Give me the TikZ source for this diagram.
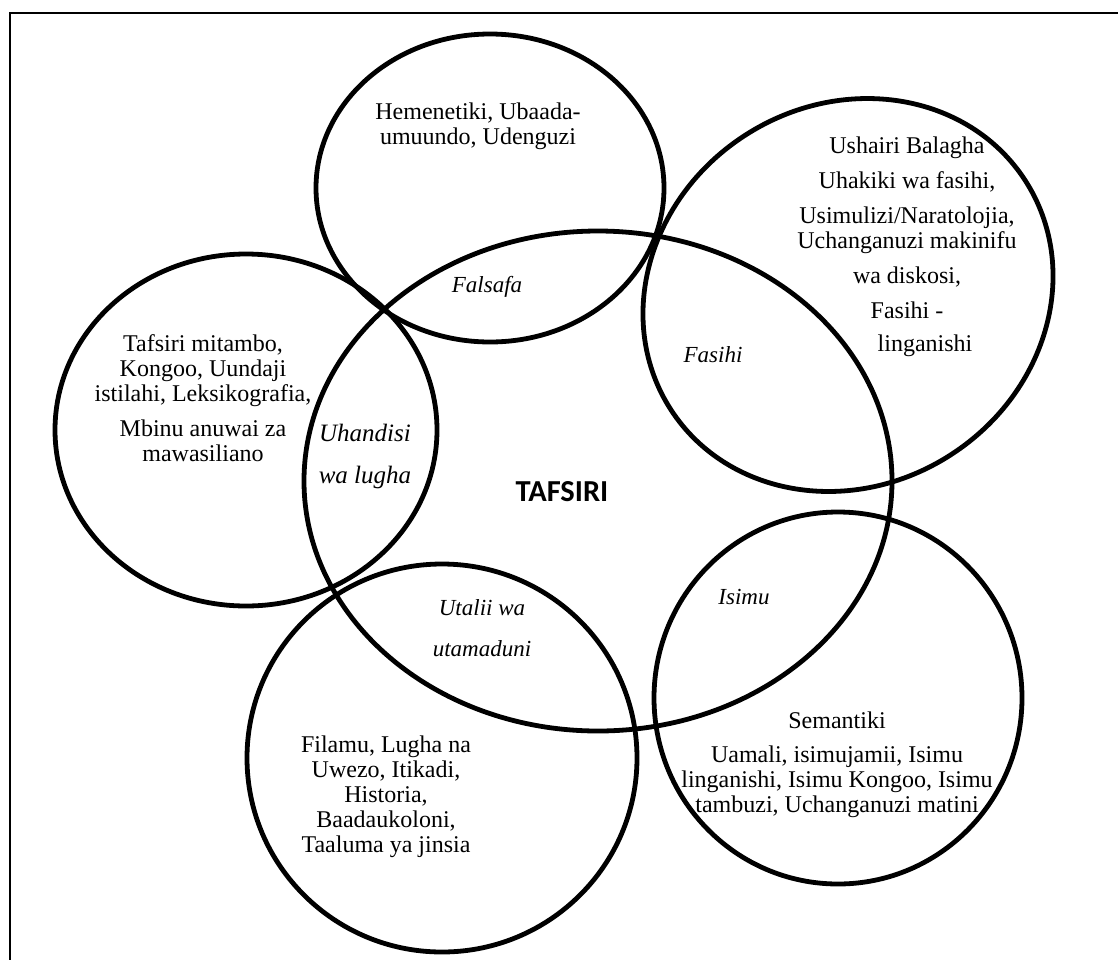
\documentclass[tikz,border=0pt]{standalone}
\usepackage{fontspec}
\setmainfont{Liberation Serif}
\newfontfamily\headfont{Carlito}

\begin{document}
\begin{tikzpicture}[x=1pt, y=-1pt,
                ring/.style={draw=black, line width=4.8pt},
                txt/.style={align=center, inner sep=0pt,
                            font=\fontsize{24}{25}\selectfont},
                lap/.style={align=center, inner sep=0pt,
                            font=\fontsize{23}{25}\selectfont\itshape},
                core/.style={inner sep=0pt,
                             font=\fontsize{30.5}{32}\selectfont\headfont\bfseries}
            ]
                \useasboundingbox (0,0) rectangle (1118,959);
                \clip (0,0) rectangle (1118,959);
                \draw[line width=1.8pt] (10,13) rectangle (1180,1010);

                \draw[ring] (490,188) ellipse [x radius=174, y radius=154];
                \draw[ring] (598,481) ellipse [x radius=294, y radius=250];
                \draw[ring] (246,430) ellipse [x radius=191, y radius=176];
                \draw[ring, rotate around={33:(848,295)}] (848,295) ellipse [x radius=211, y radius=190];
                \draw[ring] (442,758) ellipse [x radius=195, y radius=194];
                \draw[ring] (838,698) ellipse [x radius=184, y radius=186];

                \node[core] (tafsiri) at (562,492) {TAFSIRI};

                \node[lap] (falsafa) at (487,287) {Falsafa};
                \node[lap] (fasihi) at (713,355) {Fasihi};
                \node[lap, font=\fontsize{25}{25}\selectfont\itshape] (uhandisi) at (365,456) {Uhandisi\\[17pt] wa lugha};
                \node[lap] (utalii) at (482,628) {Utalii wa\\[16pt] utamaduni};
                \node[lap] (isimu) at (744,597) {Isimu};

                \node[txt] (hemenetiki) at (478,126) {Hemenetiki, Ubaada-\\ umuundo, Udenguzi};
                \node[txt] (ushairi) at (907,247) {Ushairi Balagha\\[10pt] Uhakiki wa fasihi,\\[10pt]
                    Usimulizi/Naratolojia,\\ Uchanganuzi makinifu\\[10pt] wa diskosi,\\[10pt]
                    Fasihi -\\[8pt] \hspace*{36pt}linganishi};
                \node[txt] (mitambo) at (203,398) {Tafsiri mitambo,\\ Kongoo, Uundaji\\
                    istilahi, Leksikografia,\\[10pt] Mbinu anuwai za\\ mawasiliano};
                \node[txt] (filamu) at (386,797) {Filamu, Lugha na\\ Uwezo, Itikadi,\\ Historia,\\
                    Baadaukoloni,\\ Taaluma ya jinsia};
                \node[txt] (semantiki) at (837,765) {Semantiki\\[9pt] Uamali, isimujamii, Isimu\\
                    linganishi, Isimu Kongoo, Isimu\\ tambuzi, Uchanganuzi matini};
            \end{tikzpicture}
\end{document}
